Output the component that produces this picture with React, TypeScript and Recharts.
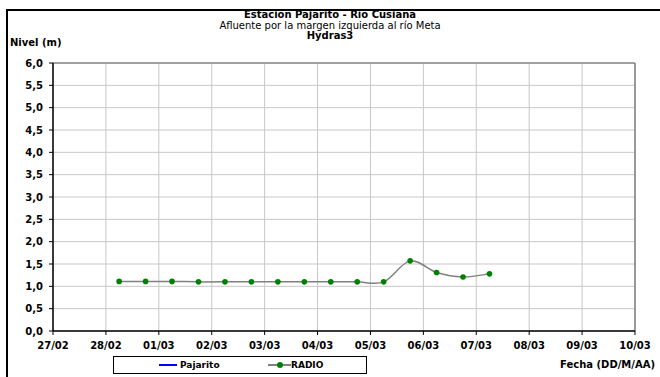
import { LineChart, Line, XAxis, YAxis, CartesianGrid, ReferenceLine, Legend } from 'recharts'

// x axis: one tick per day, 0 = 27/02
const dayLabels = ['27/02', '28/02', '01/03', '02/03', '03/03', '04/03', '05/03', '06/03', '07/03', '08/03', '09/03', '10/03']
// readings, hours after 27/02 00:00
const hours = [30, 42, 54, 66, 78, 90, 102, 114, 126, 138, 150, 162, 174, 186, 198]
const radio = [1.11, 1.11, 1.11, 1.1, 1.1, 1.1, 1.1, 1.1, 1.1, 1.1, 1.1, 1.57, 1.31, 1.21, 1.28]
const pajarito: number[] = []
const levelTicks = [0, 0.5, 1, 1.5, 2, 2.5, 3, 3.5, 4, 4.5, 5, 5.5, 6]

const data = hours.map((h, i) => ({
  day: h / 24,
  radio: radio[i],
  pajarito: pajarito[i] ?? null,
}))

const FONT = '"DejaVu Sans", sans-serif'

// Excel style smoothed line (Catmull-Rom through every point)
function excelSmooth(context: any) {
  let xs: number[] = []
  let ys: number[] = []
  return {
    areaStart() {},
    areaEnd() {},
    lineStart() {
      xs = []
      ys = []
    },
    point(x: number, y: number) {
      xs.push(+x)
      ys.push(+y)
    },
    lineEnd() {
      const n = xs.length
      if (!n) return
      context.moveTo(xs[0], ys[0])
      for (let i = 0; i < n - 1; i++) {
        const a = Math.max(i - 1, 0)
        const d = Math.min(i + 2, n - 1)
        context.bezierCurveTo(
          xs[i] + (xs[i + 1] - xs[a]) / 6,
          ys[i] + (ys[i + 1] - ys[a]) / 6,
          xs[i + 1] - (xs[d] - xs[i]) / 6,
          ys[i + 1] - (ys[d] - ys[i]) / 6,
          xs[i + 1],
          ys[i + 1]
        )
      }
    },
  }
}

function LegendBox({ payload }: any) {
  const items = payload || []
  const pos = [
    { line: 45, text: 66, w: 18 },
    { line: 154, text: 177, w: 23 },
  ]
  return (
    <div
      style={{
        position: 'relative',
        width: 254,
        height: 18,
        border: '1px solid #000',
        boxSizing: 'border-box',
        background: '#fff',
        fontFamily: FONT,
        fontWeight: 'bold',
        fontSize: 9,
      }}
    >
      {items.map((it: any, i: number) => {
        const p = pos[i] || pos[0]
        return (
          <div key={it.value}>
            <div
              style={{
                position: 'absolute',
                left: p.line,
                top: 7,
                width: p.w,
                height: 2,
                background: it.color,
              }}
            />
            {it.value === 'RADIO' && (
              <div
                style={{
                  position: 'absolute',
                  left: p.line + p.w / 2 - 3,
                  top: 5,
                  width: 6,
                  height: 6,
                  borderRadius: 3,
                  background: '#008000',
                }}
              />
            )}
            <span style={{ position: 'absolute', left: p.text, top: 2, lineHeight: '12px' }}>{it.value}</span>
          </div>
        )
      })}
    </div>
  )
}

export default function App() {
  return (
    <div
      style={{
        position: 'fixed',
        left: 0,
        top: 0,
        width: 660,
        height: 377,
        overflow: 'hidden',
        background: '#fff',
        fontFamily: FONT,
        color: '#000',
      }}
    >
      <div
        style={{
          position: 'absolute',
          left: 6,
          top: 9,
          width: 700,
          height: 400,
          borderLeft: '2px solid #000',
          borderTop: '2px solid #000',
        }}
      />
      <div style={{ position: 'absolute', left: 0, top: 10, width: 660, textAlign: 'center', fontSize: 10, lineHeight: '10.5px' }}>
        <div style={{ fontWeight: 'bold' }}>Estación Pajarito - Río Cusiana</div>
        <div>Afluente por la margen izquierda al río Meta</div>
        <div style={{ fontWeight: 'bold' }}>Hydras3</div>
      </div>
      <div style={{ position: 'absolute', left: 10, top: 37, fontSize: 10, fontWeight: 'bold' }}>Nivel (m)</div>
      <div style={{ position: 'absolute', right: 5, top: 359, fontSize: 10, fontWeight: 'bold' }}>Fecha (DD/M/AA)</div>

      <div style={{ position: 'absolute', left: 0, top: 0 }}>
        <LineChart width={660} height={377} data={data} margin={{ top: 63, right: 25, bottom: 16, left: 3 }}>
          <CartesianGrid stroke="#c8c8c8" strokeWidth={1} />
          <ReferenceLine y={6} stroke="#a0a0a0" strokeWidth={2} />
          <ReferenceLine x={11} stroke="#808080" strokeWidth={1.5} />
          <XAxis
            dataKey="day"
            type="number"
            domain={[0, 11]}
            ticks={dayLabels.map((_, i) => i)}
            tickFormatter={(v) => dayLabels[v] ?? ''}
            interval={0}
            height={30}
            tickSize={4}
            tickMargin={7}
            axisLine={{ stroke: '#000', strokeWidth: 1.5 }}
            tickLine={{ stroke: '#000' }}
            tick={{ fill: '#000', fontSize: 10, fontWeight: 'bold', fontFamily: FONT }}
          />
          <YAxis
            type="number"
            domain={[0, 6]}
            ticks={levelTicks}
            interval={0}
            width={50}
            tickSize={4}
            tickMargin={6}
            tickFormatter={(v) => v.toFixed(1).replace('.', ',')}
            axisLine={{ stroke: '#000', strokeWidth: 1.5 }}
            tickLine={{ stroke: '#000' }}
            tick={{ fill: '#000', fontSize: 10, fontWeight: 'bold', fontFamily: FONT }}
          />
          <Legend
            layout="horizontal"
            verticalAlign="middle"
            align="center"
            width={254}
            height={18}
            wrapperStyle={{ left: 113, top: 356, width: 254, height: 18 }}
            content={<LegendBox />}
          />
          <Line
            name="Pajarito"
            dataKey="pajarito"
            stroke="#0000ff"
            strokeWidth={2}
            dot={false}
            connectNulls={false}
            isAnimationActive={false}
          />
          <Line
            name="RADIO"
            dataKey="radio"
            type={excelSmooth as any}
            stroke="#808080"
            strokeWidth={1.5}
            dot={{ r: 2.8, fill: '#008000', stroke: 'none' }}
            isAnimationActive={false}
          />
        </LineChart>
      </div>
    </div>
  )
}
